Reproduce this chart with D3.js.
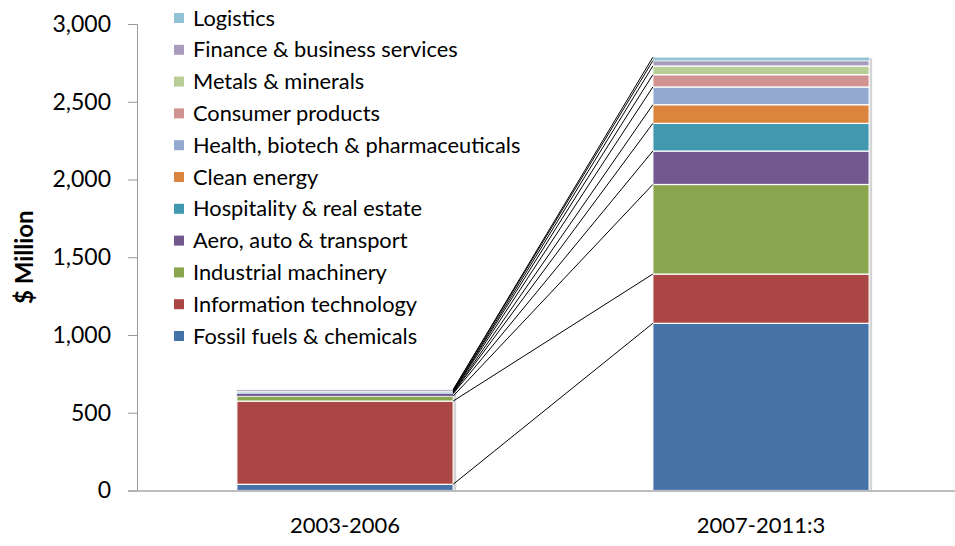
<!DOCTYPE html>
<html>
<head>
<meta charset="utf-8">
<script src="https://cdn.jsdelivr.net/npm/d3@7"></script>
<style>
  body { margin: 0; background: #fff; }
  svg { display: block; }
  svg text { font-family: Lato, "Open Sans", sans-serif; }
</style>
</head>
<body>
<div id="chart"></div>
<script>
const periods = ['2003-2006', '2007-2011:3'];
const sectors = [
  'Fossil fuels & chemicals',
  'Information technology',
  'Industrial machinery',
  'Aero, auto & transport',
  'Hospitality & real estate',
  'Clean energy',
  'Health, biotech & pharmaceuticals',
  'Consumer products',
  'Metals & minerals',
  'Finance & business services',
  'Logistics'
];
// $ million per sector, same order as sectors
const early = [40, 535, 32, 16, 4, 2, 5, 3, 2, 8, 2];
const late = [1075, 317, 576, 215, 178, 120, 114, 79, 56, 34, 22];
const colors = ['#4572A7', '#AA4643', '#89A54E', '#71588F', '#4198AF', '#DB843D',
  '#93A9CF', '#D19392', '#B9CD96', '#A99BBD', '#92C3D5'];
const yTicks = [0, 500, 1000, 1500, 2000, 2500, 3000];

const width = 955;
const height = 546;
const margin = {top: 24, right: -14, bottom: 55.5, left: 137};

const rows = periods.map((p, i) => {
  const r = {period: p};
  sectors.forEach((s, j) => { r[s] = i === 0 ? early[j] : late[j]; });
  return r;
});
const series = d3.stack().keys(sectors)(rows);

const x = d3.scaleBand()
  .domain(periods)
  .range([margin.left, width - margin.right])
  .paddingInner(0.48)
  .paddingOuter(0.24);

const y = d3.scaleLinear()
  .domain([0, 3000])
  .range([height - margin.bottom, margin.top]);

const color = d3.scaleOrdinal().domain(sectors).range(colors);

const svg = d3.select('#chart')
  .append('svg')
  .attr('width', width)
  .attr('height', height);

// soft shadow behind each bar
svg.append('g')
  .selectAll('rect')
  .data(periods)
  .join('rect')
  .attr('x', d => x(d) + 2)
  .attr('y', d => y(d3.sum(d === periods[0] ? early : late)) + 1)
  .attr('width', x.bandwidth() + 1)
  .attr('height', d => y(0) - y(d3.sum(d === periods[0] ? early : late)) - 1)
  .attr('fill', '#d4d4d4');

// stacked segments
svg.append('g')
  .selectAll('g')
  .data(series)
  .join('g')
  .attr('fill', d => color(d.key))
  .selectAll('rect')
  .data(d => d)
  .join('rect')
  .attr('x', d => x(d.data.period))
  .attr('y', d => y(d[1]))
  .attr('width', x.bandwidth())
  .attr('height', d => Math.max(0, y(d[0]) - y(d[1])))
  .attr('stroke', '#fff')
  .attr('stroke-width', d => (y(d[0]) - y(d[1]) > 4 ? 1.2 : 0.4));

// series lines joining the segment tops
svg.append('g')
  .selectAll('line')
  .data(series)
  .join('line')
  .attr('x1', x(periods[0]) + x.bandwidth())
  .attr('y1', d => y(d[0][1]))
  .attr('x2', x(periods[1]))
  .attr('y2', d => y(d[1][1]))
  .attr('stroke', '#000')
  .attr('stroke-width', 1);

// y axis
const yAxis = svg.append('g')
  .attr('transform', `translate(${margin.left},0)`)
  .call(d3.axisLeft(y).tickValues(yTicks).tickFormat(d3.format(',')).tickSize(9).tickPadding(17));
yAxis.select('.domain').attr('stroke', '#999');
yAxis.selectAll('.tick line').attr('stroke', '#999');
yAxis.selectAll('.tick text').attr('font-size', 23).attr('fill', '#000');

// x axis
const xAxis = svg.append('g')
  .attr('transform', `translate(0,${y(0)})`)
  .call(d3.axisBottom(x).tickSize(0).tickPadding(27));
xAxis.select('.domain').attr('stroke', '#a6a6a6').attr('stroke-width', 1.5);
xAxis.selectAll('.tick text').attr('font-size', 22).attr('fill', '#000');

svg.append('text')
  .attr('transform', `translate(33,${(y(0) + y(3000)) / 2}) rotate(-90)`)
  .attr('text-anchor', 'middle')
  .attr('font-size', 24)
  .attr('font-weight', 'bold')
  .text('$ Million');

// legend, top series first
const legend = svg.append('g')
  .selectAll('g')
  .data(sectors.slice().reverse())
  .join('g')
  .attr('transform', (d, i) => `translate(174,${18 + i * 31.8})`);
legend.append('rect')
  .attr('x', 0).attr('y', -5)
  .attr('width', 10).attr('height', 10)
  .attr('fill', d => color(d));
legend.append('text')
  .attr('x', 19)
  .attr('dy', '0.35em')
  .attr('font-size', 21.8)
  .text(d => d);
</script>
</body>
</html>
